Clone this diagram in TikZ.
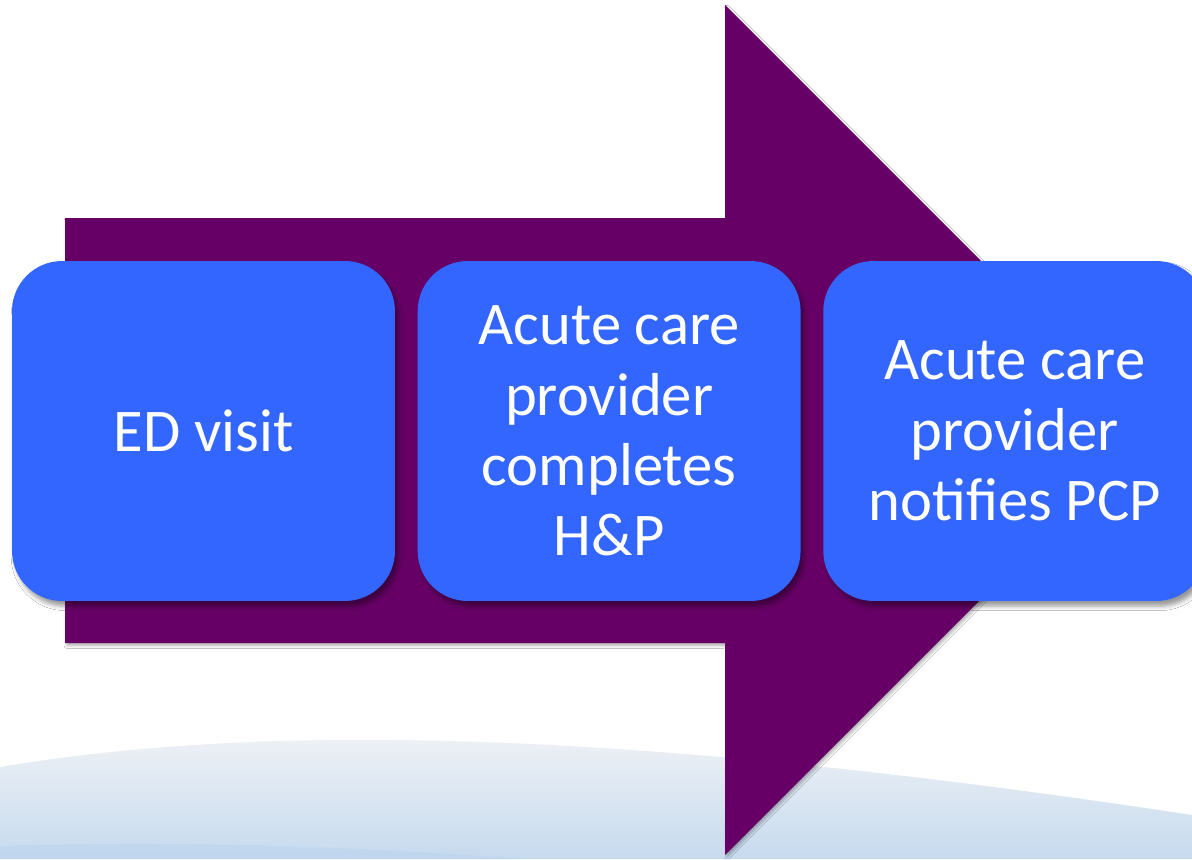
\documentclass[tikz,border=0pt]{standalone}
\usepackage{fontspec}
\setmainfont{Carlito}
\usetikzlibrary{positioning,shadows.blur}
\definecolor{arrowpurple}{HTML}{660066}
\definecolor{boxblue}{HTML}{3366FF}
\definecolor{swooshtop}{HTML}{F2F3F6}
\definecolor{swooshbot}{HTML}{C6DAEE}
\definecolor{swooshlow}{HTML}{BCD4EE}
\begin{document}
\begin{tikzpicture}[x=0.02cm,y=-0.02cm,
  stepbox/.style={fill=boxblue, rounded corners=1cm, minimum width=7.66cm,
    minimum height=6.8cm, inner sep=0pt, text=white, align=center,
    font=\fontsize{34.5}{40}\selectfont,
    blur shadow={shadow xshift=2pt, shadow yshift=-3pt, shadow blur radius=2.5pt, shadow opacity=40}},
  bigarrow/.style={fill=arrowpurple,
    blur shadow={shadow xshift=1pt, shadow yshift=-1.5pt, shadow blur radius=1.5pt, shadow opacity=30}}]
\useasboundingbox (0,0) rectangle (1192,859);
\clip (0,0) rectangle (1192,859);
\fill [white] (0,0) rectangle (1192,859);
\shade [top color=swooshtop, bottom color=swooshbot]
  (0,767) .. controls (250,725) and (600,725) .. (1192,815) -- (1192,859) -- (0,859) -- cycle;
\fill [swooshlow, opacity=0.6]
  (0,846) .. controls (200,840) and (380,848) .. (520,859) -- (0,859) -- cycle;
\path [bigarrow] (65,218) -- (725,218) -- (725,5) -- (1150,430)
  -- (725,855) -- (725,643) -- (65,643) -- cycle;
\node [stepbox] (ed) at (203.5,431) {ED visit};
\node [stepbox, right=0.44cm of ed] (hp) {Acute care\\provider\\completes\\H\&P};
\node [stepbox, right=0.44cm of hp] (pcp) {Acute care\\provider\\notifies PCP};
\end{tikzpicture}
\end{document}
